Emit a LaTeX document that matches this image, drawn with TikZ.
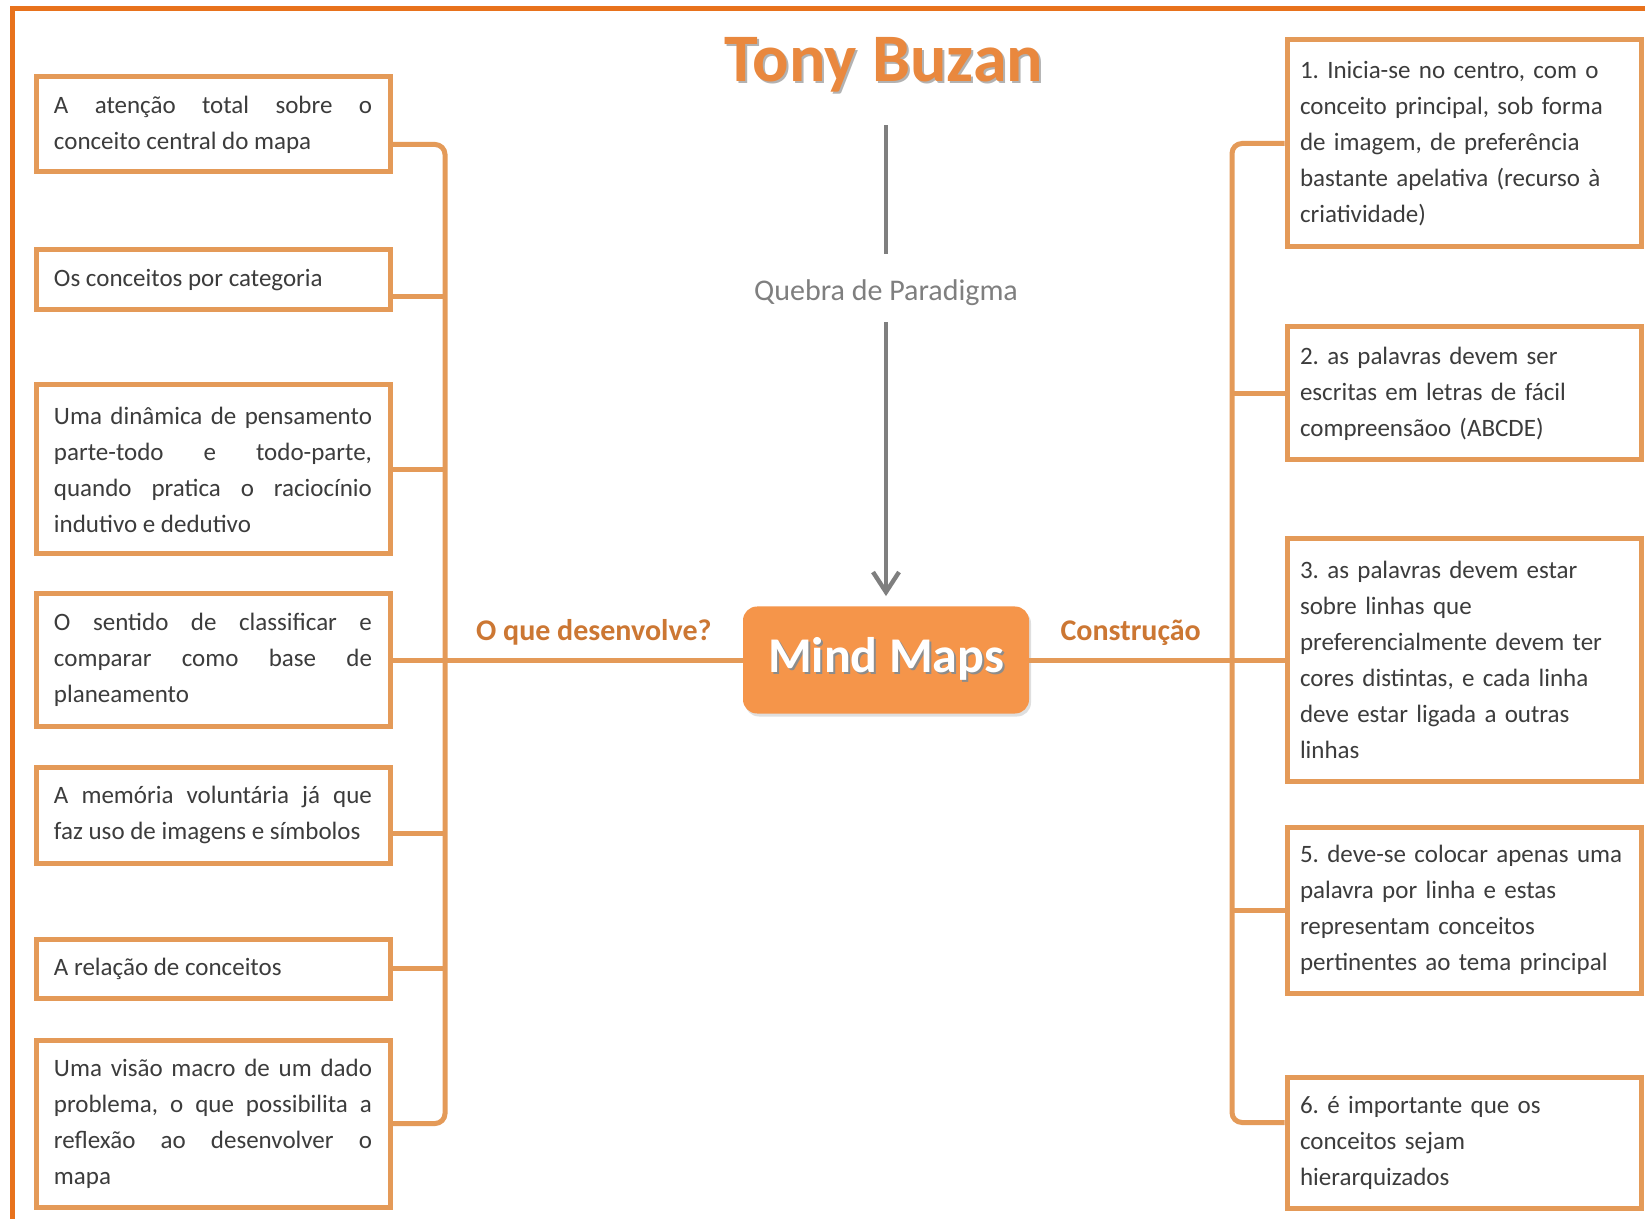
\documentclass[tikz,border=0pt]{standalone}
\usepackage{fontspec}
\setmainfont{Carlito}
\usetikzlibrary{arrows.meta,shadows}

\definecolor{framecol}{HTML}{E8721C}
\definecolor{linkcol}{HTML}{E49A58}
\definecolor{mapcol}{HTML}{F5954A}
\definecolor{titlecol}{HTML}{E9883E}
\definecolor{labelcol}{HTML}{CC7733}
\definecolor{arrowgray}{HTML}{7F7F7F}
\definecolor{textgray}{HTML}{3C3C3C}

\newcommand{\textshade}[2]{\makebox[0pt][l]{\hspace{1pt}\raisebox{-1pt}{\textcolor{#1}{#2}}}#2}
\frenchspacing

\begin{document}
\begin{tikzpicture}[x=0.5pt, y=-0.5pt,
    box/.style={draw=linkcol, line width=2.5pt, fill=white, inner ysep=0pt, text=textgray, font=\fontsize{12.5}{18}\selectfont},
    leftbox/.style={box, text width=159pt, inner xsep=9pt, align=justify},
    rightbox/.style={box, text width=164pt, inner xsep=6.5pt, align=left},
    link/.style={draw=linkcol, line width=2.5pt},
    trunk/.style={link, rounded corners=5pt},
    grayline/.style={draw=arrowgray, line width=2.2pt},
    branchlabel/.style={font=\bfseries\fontsize{15}{18}\selectfont, text=labelcol, inner sep=2pt}]

    \fill[white] (0,0) rectangle (1645,1219);
    \useasboundingbox (0,0) rectangle (1645,1219);
    \draw[framecol, line width=2.5pt] (12.5,1219) -- (12.5,8.5) -- (1645,8.5);

    % centre
    \node[fill=mapcol, rounded corners=7pt, minimum width=143pt, minimum height=53.5pt,
          drop shadow={opacity=0.25, shadow xshift=1pt, shadow yshift=-1.5pt},
          text=white, font=\bfseries\fontsize{25}{30}\selectfont] (mind) at (886,660) {\textshade{black!45}{Mind Maps}};
    \node[anchor=base, inner sep=0pt, text=titlecol, font=\bfseries\fontsize{34}{40}\selectfont] (tony) at (884,82) {\textshade{black!30}{Tony Buzan}};
    \node[inner sep=0pt, text=arrowgray, font=\fontsize{15}{18}\selectfont] (quebra) at (886,293) {Quebra de Paradigma};

    \draw[grayline, shorten <=15pt, shorten >=13pt] (tony.south -| quebra) -- (quebra);
    \draw[grayline, -{Straight Barb[length=10pt, width=13pt]}, shorten <=8pt, shorten >=5pt] (quebra) -- (mind);

    % left side
    \node[leftbox, minimum height=47.5pt] (atencao) at (213,124.5) {A atenção total sobre o\linebreak conceito central do mapa};
    \node[leftbox, minimum height=30pt] (categoria) at (213,280) {Os conceitos por categoria};
    \node[leftbox, minimum height=84.5pt] (dinamica) at (213,469.5) {Uma dinâmica de pensamento\linebreak parte-todo e todo-parte,\linebreak quando pratica o raciocínio\linebreak indutivo e dedutivo};
    \node[leftbox, minimum height=66pt] (sentido) at (213,660) {O sentido de classificar e\linebreak comparar como base de\linebreak planeamento};
    \node[leftbox, minimum height=48pt] (memoria) at (213,815) {A memória voluntária já que\linebreak faz uso de imagens e símbolos};
    \node[leftbox, minimum height=29.5pt] (relacao) at (213,968.5) {A relação de conceitos};
    \node[leftbox, minimum height=83.5pt] (visao) at (213,1123.5) {Uma visão macro de um dado\linebreak problema, o que possibilita a\linebreak reflexão ao desenvolver o\linebreak mapa};

    \coordinate (ltop) at (445,144.5);
    \coordinate (lbot) at (445,1123.5);
    \draw[trunk] ([yshift=-10pt]atencao.east) -- (ltop) -- (lbot) -- (visao.east);
    \foreach \n/\s in {categoria/-8.5pt, dinamica/0pt, sentido/0pt, memoria/-9pt, relacao/0pt}
        \draw[link] ([yshift=\s]\n.east) -- ([yshift=\s]\n.east -| ltop);
    \draw[link] (mind.west) -- (mind.west -| ltop) node[midway, above=4pt, branchlabel] {O que desenvolve?};

    % right side
    \node[rightbox, minimum height=103.5pt] (passo1) at (1464,143.5) {1. Inicia-se no centro, com o\\ conceito principal, sob forma\\ de imagem, de preferência\\ bastante apelativa (recurso à\\ criatividade)};
    \node[rightbox, minimum height=66.5pt] (passo2) at (1464,393.5) {2. as palavras devem ser\\ escritas em letras de fácil\\ compreensãoo (ABCDE)};
    \node[rightbox, minimum height=121pt] (passo3) at (1464,660) {3. as palavras devem estar\\ sobre linhas que\\ preferencialmente devem ter\\ cores distintas, e cada linha\\ deve estar ligada a outras\\ linhas};
    \node[rightbox, minimum height=83pt] (passo5) at (1464,910) {5. deve-se colocar apenas uma\\ palavra por linha e estas\\ representam conceitos\\ pertinentes ao tema principal};
    \node[rightbox, minimum height=65.5pt] (passo6) at (1464,1142.5) {6. é importante que os\\ conceitos sejam\\ hierarquizados};

    \coordinate (rbot) at (1232,1122.5);
    \draw[trunk] (passo1.west) -| (rbot) -- ([yshift=10pt]passo6.west);
    \foreach \n in {passo2, passo3, passo5}
        \draw[link] (\n.west) -- (\n.west -| rbot);
    \draw[link] (mind.east) -- (mind.east -| rbot) node[midway, above=4pt, branchlabel] {Construção};
\end{tikzpicture}
\end{document}
